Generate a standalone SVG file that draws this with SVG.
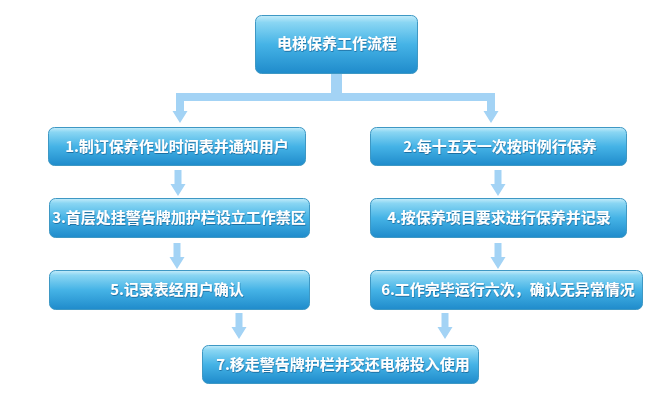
<svg xmlns="http://www.w3.org/2000/svg" width="649" height="414" viewBox="0 0 649 414">
  <defs>
    <linearGradient id="boxGrad" x1="0" y1="0" x2="0" y2="1">
      <stop offset="0" stop-color="#c4ecfa"/>
      <stop offset="0.12" stop-color="#8ad6f3"/>
      <stop offset="0.5" stop-color="#45b3e6"/>
      <stop offset="1" stop-color="#1f8bcb"/>
    </linearGradient>
    <filter id="txtShadow" x="-10%" y="-30%" width="120%" height="160%">
      <feDropShadow dx="0.5" dy="1" stdDeviation="0.6" flood-color="#0d5a8a" flood-opacity="0.7"/>
    </filter>
    <path id="arrowDown" d="M-3.5,0 H3.5 V14 H7.5 L0,26 L-7.5,14 H-3.5 Z"/>
  </defs>
  <style>
    .box { fill: url(#boxGrad); stroke: #3e98c4; stroke-width: 1; }
    .lbl { font-family: "Noto Sans CJK SC", "Liberation Sans", sans-serif; font-size: 15px; font-weight: bold; fill: #ffffff; text-anchor: middle; filter: url(#txtShadow); }
    .conn { fill: #a3d3f5; }
    .connline { fill: none; stroke: #a3d3f5; }
  </style>
  <rect width="649" height="414" fill="#ffffff"/>

  <g id="connectors">
    <path class="connline" stroke-width="11" d="M336.5,73 V97"/>
    <path class="connline" stroke-width="8" d="M176,97 H494"/>
    <path class="conn" d="M176,93 H184 V111 H187.5 L180,123 L172.5,111 H176 Z"/>
    <path class="conn" d="M487,93 H495 V111 H498.5 L491,123 L483.5,111 H487 Z"/>
    <use href="#arrowDown" class="conn" transform="translate(178,170)"/>
    <use href="#arrowDown" class="conn" transform="translate(498,170)"/>
    <use href="#arrowDown" class="conn" transform="translate(177,243)"/>
    <use href="#arrowDown" class="conn" transform="translate(498,243)"/>
    <use href="#arrowDown" class="conn" transform="translate(239,313)"/>
    <use href="#arrowDown" class="conn" transform="translate(445,313)"/>
  </g>

  <g id="node-title">
    <rect class="box" x="255.5" y="15.5" width="162" height="58" rx="6"/>
    <text class="lbl" x="337" y="48.5">电梯保养工作流程</text>
  </g>
  <g id="node-1">
    <rect class="box" x="48.5" y="127.5" width="257" height="38" rx="6"/>
    <text class="lbl" x="177" y="151.5">1.制订保养作业时间表并通知用户</text>
  </g>
  <g id="node-2">
    <rect class="box" x="370.5" y="127.5" width="256" height="38" rx="6"/>
    <text class="lbl" x="500" y="151.5">2.每十五天一次按时例行保养</text>
  </g>
  <g id="node-3">
    <rect class="box" x="49.5" y="198.5" width="260" height="39" rx="6"/>
    <text class="lbl" x="179" y="223">3.首层处挂警告牌加护栏设立工作禁区</text>
  </g>
  <g id="node-4">
    <rect class="box" x="370.5" y="198.5" width="256" height="39" rx="6"/>
    <text class="lbl" x="499" y="223">4.按保养项目要求进行保养并记录</text>
  </g>
  <g id="node-5">
    <rect class="box" x="49.5" y="270.5" width="260" height="39" rx="6"/>
    <text class="lbl" x="177" y="295">5.记录表经用户确认</text>
  </g>
  <g id="node-6">
    <rect class="box" x="370.5" y="270.5" width="272" height="39" rx="6"/>
    <text class="lbl" x="508" y="295">6.工作完毕运行六次，确认无异常情况</text>
  </g>
  <g id="node-7">
    <rect class="box" x="202.5" y="345.5" width="276" height="38" rx="6"/>
    <text class="lbl" x="343" y="369.5">7.移走警告牌护栏并交还电梯投入使用</text>
  </g>
</svg>
